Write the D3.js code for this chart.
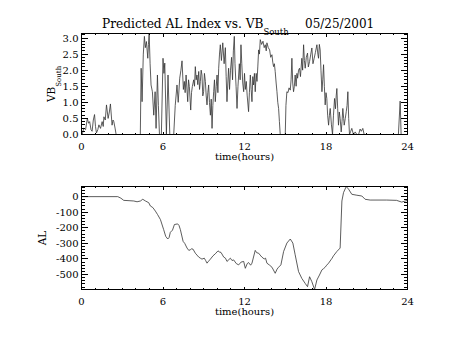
<!DOCTYPE html>
<html>
<head>
<meta charset="utf-8">
<script src="https://cdn.jsdelivr.net/npm/d3@7"></script>
<style>
  body { margin: 0; background: #fff; }
  svg { display: block; }
  text { font-family: "DejaVu Serif", serif; fill: #000; }
</style>
</head>
<body>
<svg id="chart" width="454" height="341"></svg>
<script>
// Time axis (hours of the day)
const hourTicks = [0, 6, 12, 18, 24];

// Southward IMF component, VB_South
const vbHours = [0.0, 0.05, 0.17, 0.3, 0.43, 0.52, 0.6, 0.7, 0.78, 0.87, 0.96, 1.03, 1.1, 1.2, 1.28, 1.4, 1.52, 1.6, 1.65,
  1.75, 1.84, 1.96, 2.05, 2.13, 2.25, 2.32, 2.38, 2.47, 2.55,
  4.33, 4.39, 4.46, 4.55, 4.63, 4.7, 4.78, 4.88, 4.93, 4.98, 5.05, 5.12, 5.22, 5.32, 5.42, 5.49, 5.59, 5.66, 5.74, 5.88,
  6.0, 6.07, 6.13, 6.25, 6.37, 6.5, 6.79, 6.9, 7.03, 7.12, 7.23, 7.32, 7.4, 7.5, 7.57, 7.63, 7.7, 7.82, 7.88, 7.94, 8.04,
  8.1, 8.16, 8.26, 8.32, 8.38, 8.44, 8.5, 8.56, 8.63, 8.69, 8.75, 8.81, 8.87, 8.93, 8.99, 9.05, 9.12, 9.18, 9.24, 9.3,
  9.36, 9.42, 9.49, 9.55, 9.61, 9.67, 9.73, 9.79, 9.85, 9.92, 9.98, 10.04, 10.1, 10.16, 10.22, 10.3, 10.4, 10.5, 10.59,
  10.65, 10.71, 10.77, 10.83, 10.9, 10.97, 11.05, 11.12, 11.18, 11.25, 11.3, 11.38, 11.45, 11.52, 11.62, 11.68, 11.74,
  11.8, 11.87, 11.94, 12.0, 12.06, 12.13, 12.2, 12.3, 12.36, 12.43, 12.49, 12.55, 12.61, 12.67, 12.73, 12.79, 12.86,
  12.92, 12.98, 13.04, 13.1, 13.16, 13.26, 13.36, 13.45, 13.53, 13.6, 13.65, 13.75, 13.85, 13.93, 14.02, 14.08, 14.14,
  14.2, 14.26, 14.33, 14.39, 14.45, 14.51, 14.57, 14.63, 15.0, 15.05, 15.12, 15.2, 15.28, 15.37, 15.43, 15.49, 15.55,
  15.61, 15.67, 15.73, 15.8, 15.86, 15.91, 15.98, 16.05, 16.12, 16.22, 16.28, 16.35, 16.41, 16.47, 16.55, 16.64, 16.7,
  16.79, 16.88, 16.96, 17.04, 17.13, 17.22, 17.33, 17.4, 17.45, 17.51, 17.57, 17.63, 17.7, 17.76, 17.82, 17.88, 17.94,
  18.0, 18.06, 18.12, 18.19, 18.25, 18.31, 18.4, 18.48, 18.55, 18.63, 18.7, 18.75, 18.8, 18.86, 18.92, 18.98, 19.04,
  19.12, 19.18, 19.24, 19.3, 19.34, 19.42, 19.49, 19.55, 19.61, 19.67, 19.73, 19.82, 19.9, 20.02, 20.15, 20.27, 20.4,
  20.51, 20.6, 20.71, 20.81, 23.33, 23.46, 23.53, 24.0];
const vbValues = [0, 0, 0.2, 0.15, 0.5, 0.35, 0.4, 0.15, 0.1, 0.45, 0.62, 0.25, 0.05, 0.15, 0.3, 0.19, 0.4, 0.25, 0.55,
  0.45, 0.92, 0.5, 0.7, 0.95, 0.29, 0.45, 0.4, 0.2, 0,
  0, 2.06, 1.02, 2.5, 3.05, 2.7, 2.89, 2.37, 2.8, 3.14, 2.2, 1.54, 1.33, 0.6, 1.33, 0.19, 1.85, 0.9, 0, 0,
  2.37, 1.9, 2.22, 0, 1.85, 0, 0, 0.9, 1.54, 1.0, 1.75, 2.0, 2.29, 1.4, 1.65, 1.3, 1.85, 1.02, 1.7, 1.49, 0.76,
  1.3, 1.49, 1.7, 1.5, 2.11, 1.7, 1.85, 1.55, 1.96, 1.4, 1.65, 2.0, 1.85, 1.2, 1.33, 1.9, 1.65, 1.2, 0.92, 1.3,
  1.54, 1.0, 0.6, 1.1, 0.19, 0.9, 1.33, 1.7, 1.02, 1.5, 1.85, 1.3, 2.06, 2.5, 2.79, 2.3, 2.85, 2.2, 2.7,
  1.8, 1.02, 1.6, 2.06, 1.4, 2.0, 2.4, 1.7, 2.6, 3.05, 2.2, 1.5, 0.81, 1.5, 2.2, 1.7, 2.79,
  2.2, 1.6, 1.33, 1.9, 1.4, 1.65, 1.2, 0.71, 1.3, 1.85, 1.4, 1.02, 1.8, 1.54, 1.9, 1.33, 1.9,
  1.65, 2.1, 2.63, 2.5, 2.95, 2.8, 2.9, 2.7, 2.79, 2.6, 2.85, 2.7, 2.63, 2.4, 2.48, 2.25, 2.11,
  2.2, 1.96, 1.6, 1.33, 1.0, 0.81, 0.4, 0, 0, 0.9, 1.33, 1.3, 1.45, 1.38, 1.7, 2.37, 1.6,
  1.33, 1.5, 1.85, 1.5, 1.9, 1.75, 2.0, 2.06, 1.8, 2.37, 2.0, 2.79, 2.3, 2.06, 2.4, 2.53, 2.1,
  2.27, 2.5, 2.69, 2.2, 2.37, 2.55, 2.79, 2.5, 2.37, 2.8, 2.63, 2.0, 1.33, 1.7, 2.17, 1.5, 0.92,
  1.3, 1.12, 0.6, 0.29, 0.6, 0.81, 0.3, 0, 0.6, 1.12, 0.8, 1.2, 1.43, 0.8, 0.29, 0.7, 0.5,
  0.08, 0.4, 0.81, 0.5, 0.29, 0.5, 0.71, 0.9, 1.33, 0.5, 0, 0.1, 0.19, 0, 0.08, 0, 0,
  0.17, 0.1, 0.19, 0, 0, 1.04, 0, 0];

// Predicted AL index (nT)
const alHours = [0, 2.67, 2.9, 3.11, 3.5, 3.85, 4.09, 4.34, 4.51, 4.71, 4.95, 5.07, 5.25, 5.44, 5.6, 5.81, 6.05, 6.2, 6.35,
  6.45, 6.54, 6.7, 6.84, 7.08, 7.18, 7.28, 7.48, 7.6, 7.77, 7.9, 8.01, 8.1, 8.21, 8.38, 8.5, 8.63, 8.75, 8.87, 9.04, 9.14,
  9.24, 9.35, 9.49, 9.68, 9.85, 10.05, 10.15, 10.27, 10.47, 10.6, 10.71, 10.96, 11.08, 11.2, 11.4, 11.57, 11.75, 11.94,
  12.06, 12.2, 12.3, 12.45, 12.55, 12.79, 12.9, 13.04, 13.15, 13.28, 13.45, 13.55, 13.65, 13.85, 14.02, 14.26, 14.4,
  14.51, 14.68, 14.88, 15.12, 15.37, 15.56, 15.73, 15.98, 16.22, 16.47, 16.64, 16.79, 16.96, 17.16, 17.33, 17.52, 17.7,
  17.82, 17.94, 18.05, 18.19, 18.36, 18.45, 18.55, 18.8, 19.04, 19.17, 19.29, 19.49, 19.66, 19.9, 20.27, 20.64, 20.88,
  21.25, 22.47, 23.2, 23.57, 24.0];
const alValues = [0, 0, -10, -24, -26, -28, -33, -28, -17, -28, -39, -60, -70, -93, -115, -147, -212, -255, -272,
  -262, -229, -215, -179, -175, -185, -212, -287, -300, -330, -345, -341, -335, -337, -363, -375, -388, -395, -401, -395,
  -410, -427, -415, -401, -380, -367, -348, -355, -358, -388, -395, -416, -395, -410, -406, -430, -438, -420, -416,
  -460, -430, -423, -440, -427, -345, -360, -363, -375, -388, -400, -395, -427, -440, -453, -492, -465,
  -453, -438, -352, -298, -272, -298, -373, -481, -525, -557, -578, -514, -546, -596, -535, -503, -470,
  -462, -453, -440, -427, -406, -395, -380, -352, -330, -28, 26, 65, 48, 15, 9, 4, -17,
  -22, -22, -24, -35, -24];

const vbTicks = [0, 0.5, 1.0, 1.5, 2.0, 2.5, 3.0];
const alTicks = [-500, -400, -300, -200, -100, 0];

const svg = d3.select("#chart");
svg.append("rect").attr("width", 454).attr("height", 341).attr("fill", "#fff");

const left = 81.5, right = 407.5;
const x = d3.scaleLinear().domain([0, 24]).range([left, right]);

function panel(opt) {
  const y = d3.scaleLinear().domain(opt.domain).range([opt.bottom, opt.top]);
  const g = svg.append("g");

  // data trace
  g.append("path")
    .datum(d3.zip(opt.hours, opt.values))
    .attr("fill", "none")
    .attr("stroke", "#333")
    .attr("stroke-width", 0.8)
    .attr("stroke-linejoin", "round")
    .attr("d", d3.line().x(d => x(d[0])).y(d => y(d[1])));

  // box
  g.append("rect")
    .attr("x", left).attr("y", opt.top)
    .attr("width", right - left).attr("height", opt.bottom - opt.top)
    .attr("fill", "none").attr("stroke", "#000").attr("stroke-width", 1);

  const tk = g.append("g").attr("stroke", "#000").attr("stroke-width", 1).attr("shape-rendering", "crispEdges");

  // x ticks, top and bottom edges
  d3.range(0, 24.001, 1).forEach(h => {
    const len = hourTicks.includes(h) ? 3 : 1.5;
    const px = Math.round(x(h) - 0.5) + 0.5;
    tk.append("line").attr("x1", px).attr("x2", px).attr("y1", opt.bottom).attr("y2", opt.bottom - len);
    tk.append("line").attr("x1", px).attr("x2", px).attr("y1", opt.top).attr("y2", opt.top + len);
  });

  // y ticks, left and right edges
  const [lo, hi] = opt.domain;
  d3.range(Math.ceil(lo / opt.minor - 1e-9) * opt.minor, hi + 1e-9, opt.minor).forEach(v => {
    const major = opt.ticks.some(t => Math.abs(t - v) < 1e-9);
    const len = major ? 6.5 : 3.3;
    const py = Math.round(y(v) - 0.5) + 0.5;
    tk.append("line").attr("x1", left).attr("x2", left + len).attr("y1", py).attr("y2", py);
    tk.append("line").attr("x1", right).attr("x2", right - len).attr("y1", py).attr("y2", py);
  });

  // y tick labels
  g.append("g").selectAll("text").data(opt.ticks).join("text")
    .attr("x", left - 3).attr("y", d => y(d) + 3.5)
    .attr("text-anchor", "end").attr("font-size", 10)
    .text(d => opt.fmt(d));

  // x tick labels
  g.append("g").selectAll("text").data(hourTicks).join("text")
    .attr("x", d => x(d)).attr("y", opt.bottom + 15)
    .attr("text-anchor", "middle").attr("font-size", 10)
    .text(d => d);

  // x title
  g.append("text")
    .attr("x", (left + right) / 2).attr("y", opt.bottom + 25)
    .attr("text-anchor", "middle").attr("font-size", 10)
    .text("time(hours)");

  return g;
}

panel({
  hours: vbHours, values: vbValues,
  domain: [0, d3.max(vbValues)], top: 33.5, bottom: 134.5,
  ticks: vbTicks, minor: 0.1, fmt: d3.format(".1f")
});

panel({
  hours: alHours, values: alValues,
  domain: d3.extent(alValues), top: 186.5, bottom: 289.5,
  ticks: alTicks, minor: 20, fmt: d => String(d)
});

// y titles
const vbTitle = svg.append("text")
  .attr("transform", "translate(54.5,102) rotate(-90)")
  .attr("font-size", 10.5);
vbTitle.append("tspan").text("VB");
vbTitle.append("tspan").attr("dy", 6).attr("font-size", 7).text("South");

svg.append("text")
  .attr("transform", "translate(45.5,238) rotate(-90)")
  .attr("text-anchor", "middle").attr("font-size", 10.5)
  .text("AL");

// main title
const title = svg.append("text").attr("x", 102).attr("y", 28.3).attr("font-size", 12.2);
title.append("tspan").text("Predicted AL Index vs. VB");
title.append("tspan").attr("dy", 7).attr("font-size", 8.5).text("South");
svg.append("text").attr("x", 305).attr("y", 28.3).attr("font-size", 12).text("05/25/2001");
</script>
</body>
</html>
